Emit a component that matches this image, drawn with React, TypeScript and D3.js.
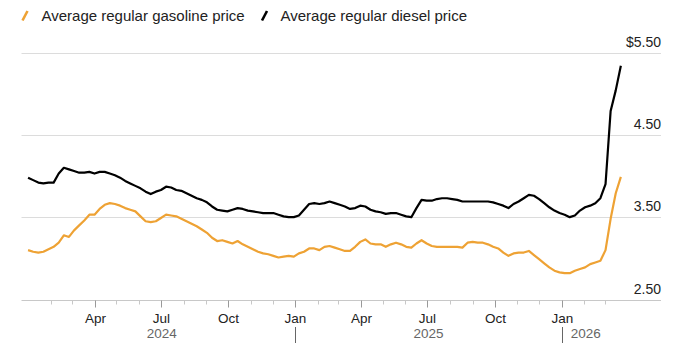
import React from 'react';
import * as d3 from 'd3';

// Weekly readings, first week = Jan 1, 2024
const gasoline = [
  3.10, 3.08, 3.07, 3.08, 3.11, 3.14, 3.19, 3.28, 3.26, 3.34,
  3.40, 3.46, 3.53, 3.53, 3.60, 3.65, 3.67, 3.66, 3.64, 3.61,
  3.59, 3.57, 3.51, 3.45, 3.44, 3.45, 3.49, 3.53, 3.52, 3.51,
  3.48, 3.45, 3.42, 3.39, 3.35, 3.31, 3.25, 3.21, 3.22, 3.20,
  3.18, 3.21, 3.17, 3.14, 3.11, 3.08, 3.06, 3.05, 3.03, 3.01,
  3.02, 3.03, 3.02, 3.06, 3.08, 3.12, 3.12, 3.10, 3.14, 3.15,
  3.13, 3.11, 3.09, 3.09, 3.14, 3.20, 3.23, 3.18, 3.17, 3.17,
  3.14, 3.17, 3.19, 3.17, 3.14, 3.13, 3.18, 3.22, 3.18, 3.15,
  3.14, 3.14, 3.14, 3.14, 3.14, 3.13, 3.19, 3.20, 3.19, 3.19,
  3.17, 3.14, 3.12, 3.07, 3.03, 3.06, 3.07, 3.07, 3.09, 3.04,
  2.99, 2.94, 2.89, 2.85, 2.83, 2.82, 2.82, 2.85, 2.87, 2.89,
  2.93, 2.95, 2.97, 3.10, 3.48, 3.79, 3.99,
];
const diesel = [
  3.98, 3.95, 3.92, 3.91, 3.92, 3.92, 4.03, 4.10, 4.08, 4.06,
  4.04, 4.04, 4.05, 4.03, 4.05, 4.05, 4.03, 4.01, 3.98, 3.94,
  3.91, 3.88, 3.85, 3.81, 3.78, 3.81, 3.83, 3.87, 3.86, 3.83,
  3.82, 3.79, 3.76, 3.73, 3.71, 3.68, 3.63, 3.59, 3.58, 3.57,
  3.59, 3.61, 3.60, 3.58, 3.57, 3.56, 3.55, 3.55, 3.55, 3.53,
  3.51, 3.50, 3.50, 3.52, 3.59, 3.66, 3.67, 3.66, 3.67, 3.69,
  3.67, 3.65, 3.63, 3.60, 3.61, 3.64, 3.63, 3.59, 3.57, 3.56,
  3.54, 3.55, 3.55, 3.53, 3.51, 3.50, 3.61, 3.71, 3.70, 3.70,
  3.72, 3.73, 3.73, 3.72, 3.71, 3.69, 3.69, 3.69, 3.69, 3.69,
  3.69, 3.68, 3.66, 3.64, 3.61, 3.66, 3.69, 3.73, 3.77, 3.76,
  3.72, 3.67, 3.62, 3.58, 3.55, 3.53, 3.50, 3.52, 3.58, 3.62,
  3.64, 3.67, 3.73, 3.90, 4.79, 5.04, 5.34,
];
const seriesNames = ['Average regular gasoline price', 'Average regular diesel price'];
const seriesColors = ['#eea234', '#000000'];
const yTicks = [2.5, 3.5, 4.5, 5.5];
const yTickLabels = ['2.50', '3.50', '4.50', '$5.50'];
const years = [2024, 2025, 2026];

const W = 700;
const H = 359;
const FONT = '"Liberation Sans", Arial, Helvetica, sans-serif';

export default function App() {
  const start = new Date(2024, 0, 1);
  const dates = gasoline.map((_, i) => d3.timeDay.offset(start, 7 * i));
  const lastDate = dates[dates.length - 1];

  const x = d3.scaleTime()
    .domain([new Date(2023, 11, 23), new Date(2026, 4, 17)])
    .range([21.5, 661]);
  const y = d3.scaleLinear().domain([2.5, 5.5]).range([299.5, 52.5]);

  const line = d3.line<number>()
    .x((_, i) => x(dates[i]))
    .y((d) => y(d));

  const months = d3.timeMonth.range(new Date(2024, 1, 1), new Date(2026, 3, 1));
  const fmt = d3.timeFormat('%b');
  const axisY = Math.round(y(2.5)) + 0.5;

  const yearCenters = years.map((yr) => {
    const a = new Date(Math.max(+new Date(yr, 0, 1), +start));
    const b = new Date(Math.min(+new Date(yr + 1, 0, 1), +lastDate));
    return (x(a) + x(b)) / 2;
  });
  // the short final year sits just right of its separator
  yearCenters[2] = x(new Date(2026, 0, 1)) + 24;

  return (
    <svg width={W} height={H} style={{ position: 'absolute', left: 0, top: 0, background: '#fff' }} fontFamily={FONT}>
      {/* legend */}
      <g>
        <line x1={22.5} y1={20.5} x2={27.5} y2={11} stroke={seriesColors[0]} strokeWidth={2.6} />
        <text x={41.5} y={21} fontSize={15} fill="#222">{seriesNames[0]}</text>
        <line x1={262} y1={20.5} x2={267} y2={11} stroke={seriesColors[1]} strokeWidth={2.6} />
        <text x={280.5} y={21} fontSize={15} fill="#222">{seriesNames[1]}</text>
      </g>

      {/* grid */}
      {yTicks.map((t, i) => {
        const yy = Math.round(y(t)) + 0.5;
        return (
          <g key={t}>
            <line x1={21.5} x2={661} y1={yy} y2={yy} stroke={i === 0 ? '#c8c8c8' : '#dcdcdc'} strokeWidth={1} />
            <text x={661} y={yy - 7} textAnchor="end" fontSize={14} fill="#222">{yTickLabels[i]}</text>
          </g>
        );
      })}

      {/* x ticks */}
      {months.map((m) => {
        const xx = Math.round(x(m)) + 0.5;
        const major = m.getMonth() % 3 === 0;
        return (
          <g key={+m}>
            <line x1={xx} x2={xx} y1={axisY} y2={axisY + (major ? 7 : 4)} stroke={major ? '#999' : '#c8c8c8'} strokeWidth={1} />
            {major && (
              <text x={xx} y={323} textAnchor="middle" fontSize={13.5} fill="#222">{fmt(m)}</text>
            )}
          </g>
        );
      })}

      {/* years */}
      {years.map((yr, i) => (
        <text key={yr} x={yearCenters[i]} y={338} textAnchor="middle" fontSize={13.5} fill="#666">{yr}</text>
      ))}
      {years.slice(1).map((yr) => {
        const xx = Math.round(x(new Date(yr, 0, 1))) + 0.5;
        return <line key={yr} x1={xx} x2={xx} y1={327} y2={343} stroke="#666" strokeWidth={1} />;
      })}

      {/* lines */}
      <path d={line(gasoline) || ''} fill="none" stroke={seriesColors[0]} strokeWidth={2.2} strokeLinejoin="round" />
      <path d={line(diesel) || ''} fill="none" stroke={seriesColors[1]} strokeWidth={2.2} strokeLinejoin="round" />
    </svg>
  );
}
